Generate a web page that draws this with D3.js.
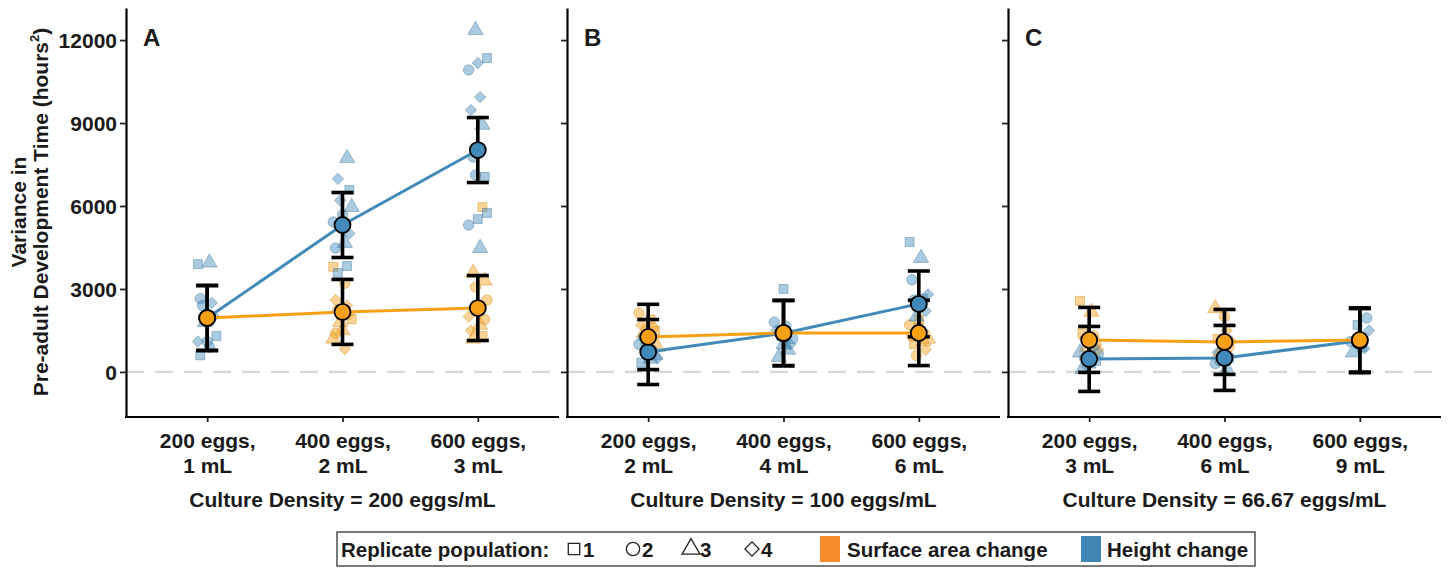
<!DOCTYPE html>
<html>
<head>
<meta charset="utf-8">
<script src="https://cdn.jsdelivr.net/npm/d3@7"></script>
<style>
  body { margin: 0; background: #fff; }
  text { font-family: "Liberation Sans", Arial, sans-serif; font-weight: bold; fill: #1a1a1a; }
</style>
</head>
<body>
<svg id="chart" width="1449" height="569"></svg>
<script>
// ---- data ----
const panelNames = ["A", "B", "C"];
const densityTitles = [
  "Culture Density = 200 eggs/mL",
  "Culture Density = 100 eggs/mL",
  "Culture Density = 66.67 eggs/mL"
];
const categoriesA = ["200 eggs,|1 mL", "400 eggs,|2 mL", "600 eggs,|3 mL"];
const categoriesB = ["200 eggs,|2 mL", "400 eggs,|4 mL", "600 eggs,|6 mL"];
const categoriesC = ["200 eggs,|3 mL", "400 eggs,|6 mL", "600 eggs,|9 mL"];
const yTicks = [0, 3000, 6000, 9000, 12000];

const surfaceMeans = [[1950, 2170, 2310], [1265, 1410, 1410], [1157, 1084, 1157]];
const surfaceErr   = [[1175, 1175, 1175], [1180, 1180, 1180], [1175, 1175, 1160]];
const heightMeans  = [[1950, 5313, 8024], [720, 1400, 2460], [470, 506, 1130]];
const heightErr    = [[1175, 1175, 1175], [1175, 1180, 1190], [1175, 1175, 1160]];

// [category, replicate, variance]
const heightPointsA = [
  [0,1,3900],[0,3,3950],[0,2,2650],[0,4,2500],[0,2,2400],[0,4,2000],[0,3,1800],[0,1,1300],[0,2,1100],[0,4,1100],[0,2,900],[0,1,600],
  [1,3,7730],[1,4,6980],[1,1,6580],[1,4,6200],[1,3,5960],[1,2,5680],[1,2,5420],[1,3,4660],[1,2,4480],[1,1,3830],[1,1,3580],[1,4,5000],
  [2,3,12360],[2,1,11350],[2,4,11170],[2,2,10920],[2,4,9940],[2,4,9470],[2,3,8930],[2,2,7770],[2,1,7050],[2,2,7120],[2,1,5750],[2,1,5530],[2,2,5310],[2,3,4480]
];
const surfacePointsA = [
  [1,1,3800],[1,2,3210],[1,4,2600],[1,4,2400],[1,2,2250],[1,4,2100],[1,3,1800],[1,1,1900],[1,3,1500],[1,3,1200],[1,4,830],[1,2,1400],
  [2,1,5960],[2,3,3580],[2,3,3300],[2,2,3070],[2,2,2600],[2,1,2400],[2,4,2000],[2,3,1700],[2,4,1500],[2,1,1300],[2,3,1200],[2,2,1900]
];
const heightPointsB = [
  [0,2,1000],[0,3,470],[0,1,330],[0,4,800],[0,2,1250],[0,3,600],[0,1,900],[0,4,500],
  [1,1,3000],[1,2,1800],[1,2,1650],[1,4,1500],[1,3,800],[1,3,540],[1,4,1000],[1,1,1300],[1,2,1200],[1,3,1000],
  [2,1,4700],[2,3,4120],[2,2,3330],[2,1,2650],[2,2,2600],[2,4,2200],[2,3,2000],[2,4,2800],[2,1,2400]
];
const surfacePointsB = [
  [0,2,2130],[0,1,1900],[0,4,1700],[0,2,1600],[0,3,1400],[0,1,1500],[0,4,1100],[0,3,900],
  [2,1,1900],[2,2,1700],[2,4,1500],[2,2,1300],[2,3,1100],[2,1,1000],[2,4,800],[2,2,600],[2,3,1200],[2,1,1600]
];
const heightPointsC = [
  [0,3,700],[0,1,300],[0,3,100],[0,4,900],[0,2,500],[0,1,400],[0,4,200],[0,2,650],
  [1,3,600],[1,2,300],[1,3,100],[1,4,700],[1,1,500],[1,2,400],
  [2,2,1950],[2,1,1700],[2,4,1500],[2,3,1300],[2,2,1100],[2,1,900],[2,3,700],[2,4,850]
];
const surfacePointsC = [
  [0,1,2570],[0,3,2170],[0,1,1400],[0,2,1300],[0,4,1200],[0,2,1000],[0,3,900],[0,4,800],
  [1,2,2000],[1,3,2300],[1,4,1500],[1,1,1200],[1,2,900],[1,3,700],[1,4,1100],[1,1,800]
];

// ---- setup ----
const orange = "#F7A015", blue = "#4189B8";
const legendOrange = "#F68B2C", legendBlue = "#3F86B4";
const fs = 21;

const panels = [
  { cats: categoriesA, hp: heightPointsA, sp: surfacePointsA, range: [126, 559] },
  { cats: categoriesB, hp: heightPointsB, sp: surfacePointsB, range: [567, 1000] },
  { cats: categoriesC, hp: heightPointsC, sp: surfacePointsC, range: [1008, 1441] }
];

const svg = d3.select("#chart");
const y = d3.scaleLinear().domain([-1630, 13160]).range([417, 8]);

const shapePath = {
  1: d3.symbol(d3.symbolSquare, 80)(),
  2: d3.symbol(d3.symbolCircle, 86)(),
  3: d3.symbol(d3.symbolTriangle, 100)(),
  4: d3.symbol(d3.symbolSquare, 64)()
};
const legendPath = {
  1: d3.symbol(d3.symbolSquare, 130)(),
  2: d3.symbol(d3.symbolCircle, 140)(),
  3: d3.symbol(d3.symbolTriangle, 140)(),
  4: d3.symbol(d3.symbolSquare, 100)()
};

panels.forEach((p, i) => {
  const g = svg.append("g");
  const x = d3.scalePoint().domain(p.cats).range(p.range).padding(0.6);
  const jitter = k => ((k * 5) % 9 - 4) * 2.3;

  // zero reference line
  g.append("line")
    .attr("x1", p.range[0]).attr("x2", p.range[1])
    .attr("y1", y(0)).attr("y2", y(0))
    .attr("stroke", "#d6d6d6").attr("stroke-width", 2.2)
    .attr("stroke-dasharray", "18,11");

  // replicate points
  [[p.sp, orange], [p.hp, blue]].forEach(([pts, col]) => {
    g.selectAll(null).data(pts).join("path")
      .attr("d", d => shapePath[d[1]])
      .attr("transform", (d, k) => `translate(${x(p.cats[d[0]]) + jitter(k)},${y(d[2])})` + (d[1] === 4 ? " rotate(45)" : ""))
      .attr("fill", col).attr("fill-opacity", 0.45)
      .attr("stroke", d3.color(col).darker(0.6)).attr("stroke-opacity", 0.5)
      .attr("stroke-width", 0.8);
  });

  const series = [
    { means: heightMeans[i], err: heightErr[i], col: blue },
    { means: surfaceMeans[i], err: surfaceErr[i], col: orange }
  ];

  const line = d3.line().x((d, k) => x(p.cats[k])).y(d => y(d));
  series.forEach(s => {
    g.append("path").datum(s.means).attr("d", line)
      .attr("fill", "none").attr("stroke", s.col).attr("stroke-width", 3);
  });

  series.forEach(s => {
    s.means.forEach((m, k) => {
      const cx = x(p.cats[k]);
      const eb = g.append("g").attr("stroke", "#000").attr("stroke-width", 3.6);
      eb.append("line").attr("x1", cx).attr("x2", cx).attr("y1", y(m - s.err[k])).attr("y2", y(m + s.err[k]));
      eb.append("line").attr("x1", cx - 11).attr("x2", cx + 11).attr("y1", y(m - s.err[k])).attr("y2", y(m - s.err[k]));
      eb.append("line").attr("x1", cx - 11).attr("x2", cx + 11).attr("y1", y(m + s.err[k])).attr("y2", y(m + s.err[k]));
    });
  });

  series.forEach(s => {
    g.selectAll(null).data(s.means).join("circle")
      .attr("cx", (d, k) => x(p.cats[k])).attr("cy", d => y(d))
      .attr("r", 8).attr("fill", s.col)
      .attr("stroke", "#000").attr("stroke-width", 1.8);
  });

  // axes
  const yAxis = g.append("g").attr("transform", `translate(${p.range[0]},0)`)
    .call(d3.axisLeft(y).tickValues(yTicks).tickSize(6).tickSizeOuter(0)
      .tickFormat(i === 0 ? d3.format("d") : ""));
  yAxis.select(".domain").attr("stroke", "#000").attr("stroke-width", 2.2);
  yAxis.selectAll(".tick line").attr("stroke", "#222").attr("stroke-width", 1.8);
  yAxis.selectAll(".tick text").attr("font-size", fs).attr("x", -9).attr("dy", "0.35em");

  const xAxis = g.append("g").attr("transform", `translate(0,417)`)
    .call(d3.axisBottom(x).tickSize(5).tickSizeOuter(0));
  xAxis.select(".domain").attr("stroke", "#000").attr("stroke-width", 2.2)
    .attr("d", `M${p.range[0] - 1},0H${p.range[1]}`);
  xAxis.selectAll(".tick line").attr("stroke", "#222").attr("stroke-width", 1.8);
  xAxis.selectAll(".tick text").remove();
  xAxis.selectAll(".tick").append("text")
    .attr("text-anchor", "middle").attr("font-size", fs)
    .selectAll("tspan").data(d => d.split("|")).join("tspan")
    .attr("x", 0).attr("y", (d, k) => 31 + k * 25).text(d => d);

  g.append("text").attr("x", (p.range[0] + p.range[1]) / 2).attr("y", 507)
    .attr("text-anchor", "middle").attr("font-size", fs).text(densityTitles[i]);

  g.append("text").attr("x", p.range[0] + 17).attr("y", 46)
    .attr("font-size", 24).text(panelNames[i]);
});

// y title
const yt = svg.append("g").attr("transform", "translate(0,212)");
yt.append("text").attr("transform", "translate(26,0) rotate(-90)")
  .attr("text-anchor", "middle").attr("font-size", fs).text("Variance in");
const yt2 = yt.append("text").attr("transform", "translate(48,0) rotate(-90)")
  .attr("text-anchor", "middle").attr("font-size", fs);
yt2.append("tspan").text("Pre-adult Development Time (hours");
yt2.append("tspan").attr("font-size", 13).attr("dy", -9).text("2");
yt2.append("tspan").attr("dy", 9).text(")");

// legend
const lg = svg.append("g");
lg.append("rect").attr("x", 337).attr("y", 532).attr("width", 918).attr("height", 34)
  .attr("fill", "#fff").attr("stroke", "#333").attr("stroke-width", 1.3);
lg.append("text").attr("x", 341).attr("y", 557).attr("font-size", 20.5).text("Replicate population:");
const legShapes = [[1, 574], [2, 633], [3, 691], [4, 752]];
legShapes.forEach(([r, lx]) => {
  lg.append("path").attr("d", legendPath[r])
    .attr("transform", `translate(${lx},549)` + (r === 4 ? " rotate(45)" : ""))
    .attr("fill", "none").attr("stroke", "#222").attr("stroke-width", 1.3);
  lg.append("text").attr("x", lx + 9).attr("y", 557).attr("font-size", 20.5).text(r);
});
lg.append("rect").attr("x", 820).attr("y", 536).attr("width", 20).attr("height", 26).attr("fill", legendOrange);
lg.append("text").attr("x", 847).attr("y", 557).attr("font-size", 20.5).text("Surface area change");
lg.append("rect").attr("x", 1081).attr("y", 536).attr("width", 20).attr("height", 26).attr("fill", legendBlue);
lg.append("text").attr("x", 1107).attr("y", 557).attr("font-size", 20.5).text("Height change");
</script>
</body>
</html>
